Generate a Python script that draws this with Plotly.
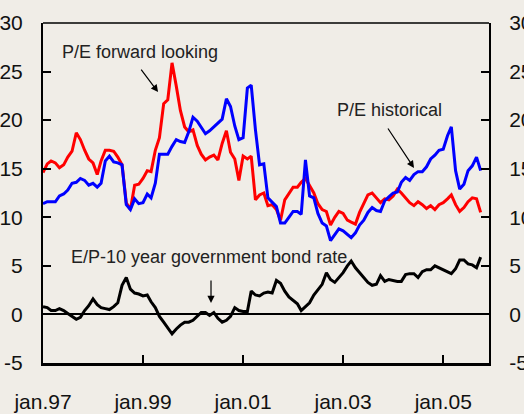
import pandas as pd
import plotly.graph_objects as go

# Monthly observations, Jan 1997 - Oct 2005
dates = pd.date_range("1997-01-01", "2005-10-01", freq="MS")

pe_forward = [
    14.6, 15.5, 15.8, 15.6, 15.1, 15.4, 16.2, 16.8, 18.7, 18.0,
    16.9, 16.0, 15.6, 14.4, 15.8, 16.9, 16.9, 16.8, 16.2, 15.4,
    11.5, 10.8, 13.3, 13.4, 14.0, 14.8, 14.7, 16.9, 18.2, 21.7,
    22.1, 25.9, 23.5, 21.0, 19.3, 18.8, 19.0, 17.4, 16.5, 15.9,
    16.2, 16.4, 15.9, 17.6, 18.9, 16.7, 16.0, 13.8, 16.3, 16.0,
    16.3, 11.8, 12.3, 12.5, 11.2, 11.3, 10.8, 9.7, 11.8, 12.5,
    13.1, 13.1, 13.6, 14.0, 13.3, 12.5, 11.4, 10.8, 10.6, 9.2,
    10.0, 10.6, 10.4, 9.7, 9.5, 9.3, 10.5, 11.5, 12.3, 12.5,
    12.0, 11.5, 11.9, 11.8, 12.2, 12.9, 12.5, 12.0, 11.5, 11.2,
    11.6, 11.3, 10.9, 11.2, 10.8, 11.3, 11.5, 11.9, 12.3, 11.3,
    10.6, 11.0, 11.6, 12.0, 11.9, 10.5,
]

pe_historical = [
    11.4, 11.6, 11.6, 11.6, 12.2, 12.4, 12.8, 13.5, 13.6, 14.0,
    13.8, 13.3, 13.5, 13.1, 13.5, 15.8, 16.3, 15.7, 15.6, 15.4,
    11.3, 10.8, 11.9, 11.4, 11.5, 12.4, 12.0, 13.5, 16.5, 16.5,
    16.5, 17.3, 18.0, 17.8, 17.7, 18.8, 20.3, 19.9, 19.2, 18.6,
    18.9, 19.3, 19.7, 20.1, 22.2, 21.4, 19.4, 18.0, 18.2, 23.3,
    23.6, 19.0, 15.4, 15.5, 12.0, 11.5, 11.1, 9.4, 9.4, 10.0,
    10.6, 10.6, 10.3, 15.9, 12.2, 12.0, 10.4, 9.4, 9.1, 7.6,
    8.2, 8.8, 8.6, 8.2, 7.9, 8.4, 9.2, 9.7, 10.5, 11.0,
    10.7, 10.6, 11.7, 12.1, 12.5, 12.6, 13.6, 14.1, 13.8, 14.4,
    14.7, 14.7, 15.2, 16.0, 16.4, 16.9, 17.0, 18.4, 19.3, 14.8,
    12.9, 13.4, 14.8, 15.3, 16.2, 14.8,
]

ep_minus_bond = [
    0.8, 0.7, 0.4, 0.4, 0.6, 0.4, 0.1, -0.2, -0.5, -0.3,
    0.4, 0.9, 1.6, 1.0, 0.7, 0.6, 0.5, 0.8, 1.2, 3.0,
    3.8, 2.6, 2.2, 2.1, 1.9, 2.0, 1.3, 0.7, -0.2, -0.8,
    -1.4, -2.0, -1.5, -1.1, -0.8, -0.8, -0.6, -0.2, 0.2, 0.2,
    -0.1, 0.2, -0.4, -0.8, -0.6, -0.2, 0.7, 0.4, 0.3, 0.3,
    2.4, 2.0, 1.9, 2.2, 2.3, 2.2, 3.5, 3.2, 2.4, 1.8,
    1.4, 1.1, 0.4, 0.8, 1.2, 2.0, 2.6, 3.1, 4.3, 3.6,
    3.3, 3.8, 4.3, 5.0, 5.5, 4.8, 4.3, 3.9, 3.3, 3.0,
    3.1, 4.0, 3.4, 3.6, 3.5, 3.4, 3.4, 4.1, 4.2, 4.2,
    3.8, 4.4, 4.6, 4.6, 5.0, 4.8, 4.6, 4.4, 4.2, 4.7,
    5.6, 5.6, 5.2, 5.1, 4.8, 5.9,
]

x_tick_vals = ["1997-01-01", "1999-01-01", "2001-01-01", "2003-01-01", "2005-01-01"]
x_tick_text = ["jan.97", "jan.99", "jan.01", "jan.03", "jan.05"]
y_tick_vals = [-5, 0, 5, 10, 15, 20, 25, 30]
y_tick_text = ["-5", "0", "5", "10", "15", "20", "25", "30"]

BG = "#F0EDE7"
TICKFONT = dict(family="Liberation Sans, Arial", size=21, color="#111")
TXTFONT = dict(family="Liberation Sans, Arial", size=18, color="#222")

fig = go.Figure()
fig.add_trace(go.Scatter(x=dates, y=pe_forward, mode="lines",
                         line=dict(color="#FF0000", width=3), name="P/E forward looking"))
fig.add_trace(go.Scatter(x=dates, y=pe_historical, mode="lines",
                         line=dict(color="#0000FF", width=3), name="P/E historical"))
fig.add_trace(go.Scatter(x=dates, y=ep_minus_bond, mode="lines", yaxis="y2",
                         line=dict(color="#000000", width=3),
                         name="E/P-10 year government bond rate"))

ARROW = dict(showarrow=True, arrowhead=2, arrowsize=1.2, arrowwidth=1.2,
             arrowcolor="black", xref="paper", yref="paper", text="")
LABEL = dict(showarrow=False, xref="paper", yref="paper",
             xanchor="center", yanchor="middle", font=TXTFONT)

fig.update_layout(
    width=524, height=414,
    margin=dict(l=43, r=35, t=23, b=51),
    paper_bgcolor=BG, plot_bgcolor=BG,
    showlegend=False,
    xaxis=dict(
        range=["1997-01-01", "2005-12-01"],
        tickvals=x_tick_vals, ticktext=x_tick_text,
        ticks="inside", ticklen=8, tickwidth=1.5, tickcolor="black",
        showline=True, linecolor="black", linewidth=3,
        showgrid=False, zeroline=False, automargin=False,
        tickfont=TICKFONT, ticklabelstandoff=18,
    ),
    yaxis=dict(
        range=[-5, 30], tickvals=y_tick_vals, ticktext=y_tick_text,
        ticks="inside", ticklen=8, tickwidth=1.5, tickcolor="black",
        showline=True, linecolor="black", linewidth=2,
        showgrid=False, zeroline=True, zerolinecolor="black", zerolinewidth=1.5,
        automargin=False,
        tickfont=TICKFONT, ticklabelstandoff=14,
    ),
    yaxis2=dict(
        range=[-5, 30], tickvals=y_tick_vals, ticktext=y_tick_text,
        overlaying="y", side="right",
        ticks="inside", ticklen=8, tickwidth=1.5, tickcolor="black",
        showline=True, linecolor="black", linewidth=2,
        showgrid=False, zeroline=False, automargin=False,
        tickfont=TICKFONT, ticklabelstandoff=14,
    ),
    shapes=[dict(type="line", xref="paper", yref="paper", x0=0, x1=1, y0=1, y1=1,
                 line=dict(color="black", width=1.5))],
    annotations=[
        dict(LABEL, text="P/E forward looking", x=0.2186, y=0.915),
        dict(ARROW, x=0.258, y=0.797, ax=-18, ay=-24),
        dict(LABEL, text="P/E historical", x=0.778, y=0.744),
        dict(ARROW, x=0.8318, y=0.5735, ax=-27, ay=-41),
        dict(LABEL, text="E/P-10 year government bond rate", x=0.3733, y=0.312),
        dict(ARROW, x=0.3767, y=0.1765, ax=0, ay=-24),
    ],
)

fig.write_html("out.html",
               config={"displayModeBar": False},
               post_script="document.body.style.margin='0';document.body.style.overflow='hidden';")
